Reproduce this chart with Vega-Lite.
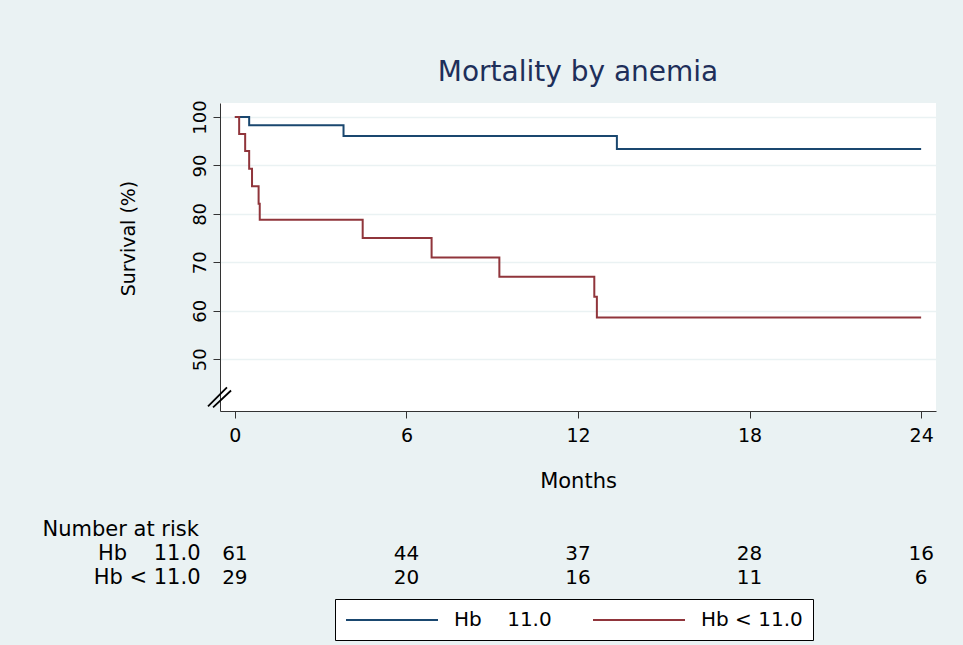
{
  "$schema": "https://vega.github.io/schema/vega-lite/v6.json",
  "background": "#eaf2f3",
  "padding": {"left": 42, "top": 58, "right": 27, "bottom": 6},
  "config": {
    "font": "DejaVu Sans",
    "view": {"stroke": null},
    "axis": {"labelColor": "#000", "titleColor": "#000", "domainColor": "#333", "tickColor": "#333", "titleFontWeight": "normal"}
  },
  "datasets": {
    "km": [
      {"time": 0, "surv": 100, "group": "Hb\u00a0\u00a0\u00a0\u00a011.0"},
      {"time": 0.5, "surv": 98.3, "group": "Hb\u00a0\u00a0\u00a0\u00a011.0"},
      {"time": 3.8, "surv": 96.1, "group": "Hb\u00a0\u00a0\u00a0\u00a011.0"},
      {"time": 13.36, "surv": 93.4, "group": "Hb\u00a0\u00a0\u00a0\u00a011.0"},
      {"time": 24, "surv": 93.4, "group": "Hb\u00a0\u00a0\u00a0\u00a011.0"},
      {"time": 0, "surv": 100, "group": "Hb < 11.0"},
      {"time": 0.15, "surv": 96.5, "group": "Hb < 11.0"},
      {"time": 0.36, "surv": 93.0, "group": "Hb < 11.0"},
      {"time": 0.5, "surv": 89.3, "group": "Hb < 11.0"},
      {"time": 0.6, "surv": 85.7, "group": "Hb < 11.0"},
      {"time": 0.83, "surv": 82.1, "group": "Hb < 11.0"},
      {"time": 0.87, "surv": 78.8, "group": "Hb < 11.0"},
      {"time": 4.47, "surv": 75.0, "group": "Hb < 11.0"},
      {"time": 6.88, "surv": 71.0, "group": "Hb < 11.0"},
      {"time": 9.25, "surv": 67.0, "group": "Hb < 11.0"},
      {"time": 12.57, "surv": 62.9, "group": "Hb < 11.0"},
      {"time": 12.66, "surv": 58.6, "group": "Hb < 11.0"},
      {"time": 24, "surv": 58.6, "group": "Hb < 11.0"}
    ],
    "risk": [
      {"time": 0, "n": 61, "group": "Hb\u00a0\u00a0\u00a0\u00a011.0"},
      {"time": 6, "n": 44, "group": "Hb\u00a0\u00a0\u00a0\u00a011.0"},
      {"time": 12, "n": 37, "group": "Hb\u00a0\u00a0\u00a0\u00a011.0"},
      {"time": 18, "n": 28, "group": "Hb\u00a0\u00a0\u00a0\u00a011.0"},
      {"time": 24, "n": 16, "group": "Hb\u00a0\u00a0\u00a0\u00a011.0"},
      {"time": 0, "n": 29, "group": "Hb < 11.0"},
      {"time": 6, "n": 20, "group": "Hb < 11.0"},
      {"time": 12, "n": 16, "group": "Hb < 11.0"},
      {"time": 18, "n": 11, "group": "Hb < 11.0"},
      {"time": 24, "n": 6, "group": "Hb < 11.0"}
    ]
  },
  "spacing": 26,
  "vconcat": [
    {
      "width": 716,
      "height": 308,
      "title": {"text": "Mortality by anemia", "fontSize": 28, "fontWeight": "normal", "color": "#1e2f5a", "anchor": "middle", "frame": "group", "offset": 13},
      "view": {"fill": "white", "stroke": null},
      "layer": [
        {
          "data": {"name": "km"},
          "mark": {"type": "line", "interpolate": "step-after", "strokeWidth": 2},
          "encoding": {
            "x": {"field": "time", "type": "quantitative",
              "scale": {"domain": [-0.52, 24.52], "nice": false, "zero": false},
              "axis": {"values": [0, 6, 12, 18, 24], "title": "Months", "labelFontSize": 19, "labelAngle": 0, "tickSize": 7, "labelPadding": 8, "titleFontSize": 21, "titlePadding": 25, "grid": false}},
            "y": {"field": "surv", "type": "quantitative",
              "scale": {"domain": [39.3, 102.9], "nice": false, "zero": false},
              "axis": {"values": [50, 60, 70, 80, 90, 100], "title": "Survival (%)", "labelAngle": -90, "labelAlign": "center", "labelBaseline": "bottom", "labelFontSize": 18, "labelPadding": 4, "tickSize": 7, "grid": true, "gridColor": "#eaf2f3", "gridWidth": 1.5, "titleFontSize": 19, "titleY": 135, "titlePadding": 53}},
            "color": {"field": "group", "type": "nominal",
              "scale": {"domain": ["Hb\u00a0\u00a0\u00a0\u00a011.0", "Hb < 11.0"], "range": ["#1a476f", "#90353b"]},
              "legend": {"title": null, "orient": "none", "legendX": 115, "legendY": 496, "direction": "horizontal", "symbolType": "M-1,0L8.2,0", "symbolSize": 400, "symbolStrokeWidth": 2, "labelFontSize": 20, "labelOffset": 87, "columnPadding": 37, "padding": 10, "strokeColor": "#000", "fillColor": "white", "labelColor": "#000"}}
          }
        },
        {
          "data": {"values": [{}]},
          "mark": {"type": "point", "shape": "M-1,0.75L0.58,-0.83M-0.58,0.83L0.92,-0.58", "filled": false, "stroke": "#000", "strokeWidth": 1.8, "size": 576, "opacity": 1},
          "encoding": {"x": {"datum": -0.52}, "y": {"datum": 42.1}}
        }
      ]
    },
    {
      "width": 716,
      "height": 73,
      "data": {"name": "risk"},
      "mark": {"type": "text", "fontSize": 20, "color": "#000"},
      "encoding": {
        "x": {"field": "time", "type": "quantitative", "scale": {"domain": [-0.52, 24.52], "nice": false, "zero": false}, "axis": null},
        "y": {"field": "group", "type": "nominal",
          "scale": {"domain": ["Number at risk", "Hb\u00a0\u00a0\u00a0\u00a011.0", "Hb < 11.0"]},
          "axis": {"title": null, "domain": false, "ticks": false, "tickSize": 0, "grid": false, "labelFontSize": 21,
            "labelAlign": {"condition": {"test": "datum.value === 'Number at risk'", "value": "left"}, "value": "right"},
            "labelPadding": {"condition": {"test": "datum.value === 'Number at risk'", "value": 178}, "value": 20}}},
        "text": {"field": "n", "type": "quantitative"}
      }
    }
  ]
}
